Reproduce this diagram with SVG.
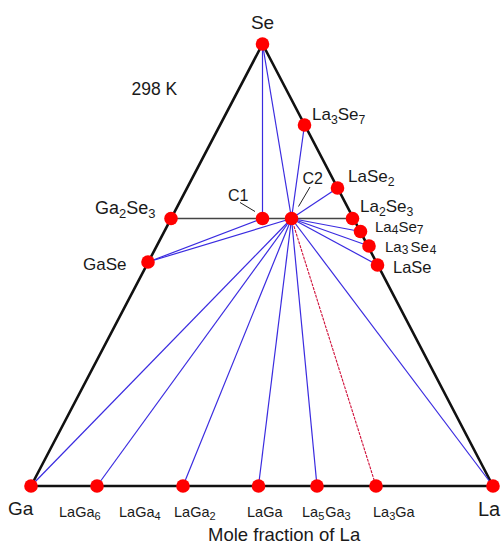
<svg xmlns="http://www.w3.org/2000/svg" width="503" height="546" viewBox="0 0 503 546">
<style>
text{font-family:"Liberation Sans",Arial,sans-serif;fill:#1a1a1a}
.sub{font-size:0.72em}
.edge{stroke:#111;stroke-width:2.6;fill:none;stroke-linejoin:round}
.tie{stroke:#3a2be0;stroke-width:1.2;fill:none}
.gray{stroke:#444;stroke-width:1.6;fill:none}
.red{stroke:#d0103a;stroke-width:1.1;fill:none;stroke-dasharray:3 1}
.lead{stroke:#222;stroke-width:1;fill:none}
.dot{fill:#ff0000}
</style>
<rect width="503" height="546" fill="#fff"/>
<g id="connectors">
  <polygon class="edge" points="262.5,44 31,486 493,486"/>
  <line class="gray" x1="171" y1="218.5" x2="352.5" y2="218.5"/>
  <line class="tie" x1="262.5" y1="44" x2="262.5" y2="218.5"/>
  <line class="tie" x1="262.5" y1="44" x2="291.5" y2="218.5"/>
  <line class="tie" x1="304.5" y1="125" x2="291.5" y2="218.5"/>
  <line class="tie" x1="337.5" y1="188" x2="291.5" y2="218.5"/>
  <line class="tie" x1="148" y1="262" x2="262.5" y2="218.5"/>
  <line class="tie" x1="148" y1="262" x2="291.5" y2="218.5"/>
  <line class="tie" x1="291.5" y1="218.5" x2="360.5" y2="231.5"/>
  <line class="tie" x1="291.5" y1="218.5" x2="369" y2="246"/>
  <line class="tie" x1="291.5" y1="218.5" x2="377.5" y2="265"/>
  <line class="tie" x1="291.5" y1="218.5" x2="31" y2="486"/>
  <line class="tie" x1="291.5" y1="218.5" x2="97" y2="486"/>
  <line class="tie" x1="291.5" y1="218.5" x2="183" y2="486"/>
  <line class="tie" x1="291.5" y1="218.5" x2="258.5" y2="486"/>
  <line class="tie" x1="291.5" y1="218.5" x2="317" y2="486"/>
  <line class="red" x1="291.5" y1="218.5" x2="376" y2="486"/>
  <line class="tie" x1="291.5" y1="218.5" x2="493" y2="486"/>
  <line class="lead" x1="240" y1="202.5" x2="255" y2="211.5"/>
  <line class="lead" x1="310" y1="187" x2="298.5" y2="206.5"/>
</g>
<g id="Se"><circle class="dot" cx="262.5" cy="44" r="6.8"/><text x="262.5" y="29" font-size="19" text-anchor="middle">Se</text></g>
<g id="Ga"><circle class="dot" cx="31" cy="486" r="6.8"/><text x="8" y="515" font-size="19">Ga</text></g>
<g id="La"><circle class="dot" cx="493" cy="486" r="6.8"/><text x="478" y="516" font-size="20">La</text></g>
<g id="T298"><text x="131.5" y="95" font-size="17.5">298 K</text></g>
<g id="La3Se7"><circle class="dot" cx="304.5" cy="125" r="6.8"/><text x="312" y="120" font-size="17">La<tspan class="sub" dy="4">3</tspan><tspan dy="-4">Se</tspan><tspan class="sub" dy="4">7</tspan></text></g>
<g id="LaSe2"><circle class="dot" cx="337.5" cy="188" r="6.8"/><text x="348" y="181.5" font-size="17">LaSe<tspan class="sub" dy="4">2</tspan></text></g>
<g id="Ga2Se3"><circle class="dot" cx="171" cy="218.5" r="6.8"/><text x="95" y="213.5" font-size="18">Ga<tspan class="sub" dy="4">2</tspan><tspan dy="-4">Se</tspan><tspan class="sub" dy="4">3</tspan></text></g>
<g id="C1"><circle class="dot" cx="262.5" cy="218.5" r="6.8"/><text x="228" y="201" font-size="16">C1</text></g>
<g id="C2"><circle class="dot" cx="291.5" cy="218.5" r="6.8"/><text x="302.5" y="184" font-size="16">C2</text></g>
<g id="La2Se3"><circle class="dot" cx="352.5" cy="218.5" r="6.8"/><text x="360" y="211.5" font-size="17">La<tspan class="sub" dy="4">2</tspan><tspan dy="-4">Se</tspan><tspan class="sub" dy="4">3</tspan></text></g>
<g id="La4Se7"><circle class="dot" cx="360.5" cy="231.5" r="6.8"/><text x="375" y="231.5" font-size="15">La<tspan font-size="12" dy="2.5">4</tspan><tspan dy="-2.5">Se</tspan><tspan font-size="12" dy="2.5">7</tspan></text></g>
<g id="La3Se4"><circle class="dot" cx="369" cy="246" r="6.8"/><text x="385" y="251.5" font-size="15">La<tspan font-size="12" dy="2.5">3</tspan><tspan dy="-2.5" dx="2">Se</tspan><tspan font-size="12" dy="2.5" dx="1">4</tspan></text></g>
<g id="LaSe"><circle class="dot" cx="377.5" cy="265" r="6.8"/><text x="393" y="273" font-size="16.5">LaSe</text></g>
<g id="GaSe"><circle class="dot" cx="148" cy="262" r="6.8"/><text x="83" y="270" font-size="17">GaSe</text></g>
<g id="LaGa6"><circle class="dot" cx="97" cy="486" r="6.8"/><text x="59" y="517" font-size="14.5">LaGa<tspan font-size="11" dy="3">6</tspan></text></g>
<g id="LaGa4"><text x="119" y="517" font-size="14.5">LaGa<tspan font-size="11" dy="3">4</tspan></text></g>
<g id="LaGa2"><circle class="dot" cx="183" cy="486" r="6.8"/><text x="174" y="517" font-size="14.5">LaGa<tspan font-size="11" dy="3">2</tspan></text></g>
<g id="LaGa"><circle class="dot" cx="258.5" cy="486" r="6.8"/><text x="247" y="517" font-size="14.5">LaGa</text></g>
<g id="La5Ga3"><circle class="dot" cx="317" cy="486" r="6.8"/><text x="302" y="517" font-size="14.5">La<tspan font-size="11" dy="3">5</tspan><tspan dy="-3" dx="1">Ga</tspan><tspan font-size="11" dy="3">3</tspan></text></g>
<g id="La3Ga"><circle class="dot" cx="376" cy="486" r="6.8"/><text x="373" y="517" font-size="14.5">La<tspan font-size="11" dy="3">3</tspan><tspan dy="-3">Ga</tspan></text></g>
<g id="axis"><text x="208" y="541" font-size="18.5">Mole fraction of La</text></g>
</svg>
